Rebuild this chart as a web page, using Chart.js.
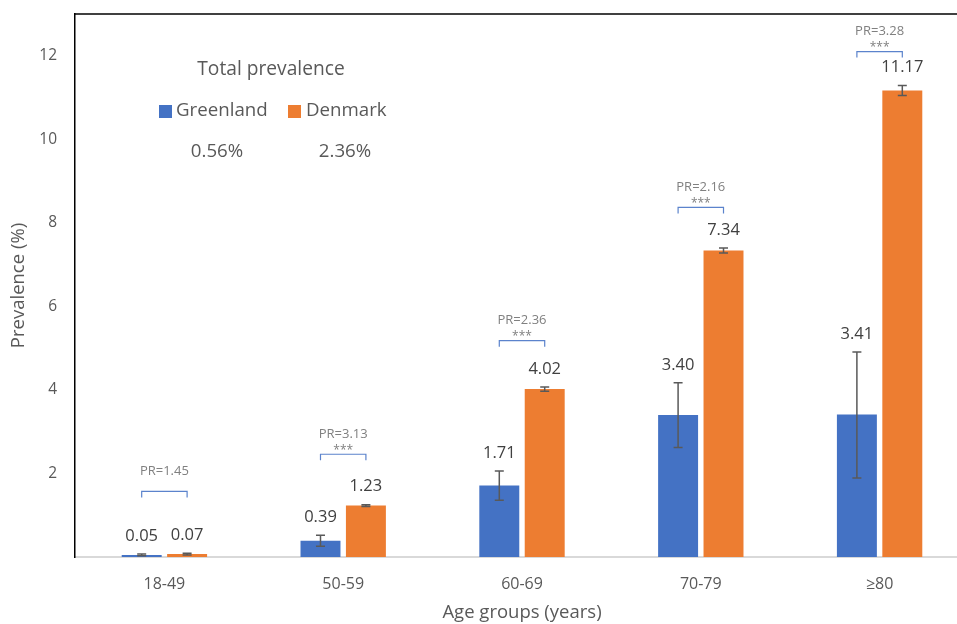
<!DOCTYPE html>
<html>
<head>
<meta charset="utf-8">
<script src="https://cdn.jsdelivr.net/npm/chart.js@4"></script>
<style>
  html, body { margin: 0; padding: 0; background: #fff; overflow: hidden; }
  #wrap { width: 969px; height: 624px; }
</style>
</head>
<body>
<div id="wrap"><canvas id="c" width="969" height="624" style="width:969px;height:624px"></canvas></div>
<script>
// ---- data ----
const categories = ['18-49', '50-59', '60-69', '70-79', '≥80'];
const greenland = [0.05, 0.39, 1.71, 3.40, 3.41];
const denmark = [0.07, 1.23, 4.02, 7.34, 11.17];
const greenlandLow = [0.03, 0.26, 1.36, 2.62, 1.89];
const greenlandHigh = [0.07, 0.52, 2.06, 4.17, 4.91];
const denmarkLow = [0.05, 1.21, 3.97, 7.28, 11.05];
const denmarkHigh = [0.09, 1.25, 4.07, 7.40, 11.29];
const prLabels = ['PR=1.45', 'PR=3.13', 'PR=2.36', 'PR=2.16', 'PR=3.28'];
const prStars = ['', '***', '***', '***', '***'];
const prLevel = [1.57, 2.46, 5.18, 8.37, 12.1];
const seriesNames = ['Greenland', 'Denmark'];
const totalPrevalence = ['0.56%', '2.36%'];
const yTicks = [2, 4, 6, 8, 10, 12];

const BLUE = '#4472C4', ORANGE = '#ED7D31';
const FONT = "'Open Sans', 'Liberation Sans', sans-serif";

const overlay = {
  id: 'overlay',
  afterDraw(chart) {
    const ctx = chart.ctx;
    const ca = chart.chartArea;
    const y = chart.scales.y;
    // top frame line
    ctx.save();
    ctx.strokeStyle = '#000';
    ctx.lineWidth = 1.5;
    ctx.beginPath();
    ctx.moveTo(ca.left - 0.75, ca.top);
    ctx.lineTo(ca.right, ca.top);
    ctx.stroke();

    const lows = [greenlandLow, denmarkLow];
    const highs = [greenlandHigh, denmarkHigh];
    const vals = [greenland, denmark];
    // error bars and value labels
    for (let d = 0; d < 2; d++) {
      const meta = chart.getDatasetMeta(d);
      meta.data.forEach((el, i) => {
        const yl = y.getPixelForValue(lows[d][i]);
        const yh = y.getPixelForValue(highs[d][i]);
        ctx.strokeStyle = '#595959';
        ctx.lineWidth = 1.5;
        ctx.beginPath();
        ctx.moveTo(el.x, yl); ctx.lineTo(el.x, yh);
        ctx.moveTo(el.x - 4.5, yl); ctx.lineTo(el.x + 4.5, yl);
        ctx.moveTo(el.x - 4.5, yh); ctx.lineTo(el.x + 4.5, yh);
        ctx.stroke();
        const top = Math.min(el.y, yh);
        ctx.fillStyle = '#404040';
        ctx.font = '16.5px ' + FONT;
        ctx.textAlign = 'center';
        ctx.textBaseline = 'middle';
        ctx.fillText(vals[d][i].toFixed(2), el.x, top - 18);
      });
    }
    // PR brackets
    const m0 = chart.getDatasetMeta(0), m1 = chart.getDatasetMeta(1);
    categories.forEach((c, i) => {
      const x1 = m0.data[i].x, x2 = m1.data[i].x;
      const by = y.getPixelForValue(prLevel[i]);
      ctx.strokeStyle = '#5B83CC';
      ctx.lineWidth = 1.2;
      ctx.beginPath();
      ctx.moveTo(x1, by + 6); ctx.lineTo(x1, by); ctx.lineTo(x2, by); ctx.lineTo(x2, by + 6);
      ctx.stroke();
      const cx = (x1 + x2) / 2;
      ctx.fillStyle = '#808080';
      ctx.textAlign = 'center';
      ctx.textBaseline = 'middle';
      ctx.font = '12px ' + FONT;
      if (prStars[i]) ctx.fillText(prStars[i], cx, by - 4);
      ctx.font = '13px ' + FONT;
      ctx.fillText(prLabels[i], cx, by - 20);
    });
    // legend block
    ctx.fillStyle = '#595959';
    ctx.textBaseline = 'middle';
    ctx.font = '19.2px ' + FONT;
    ctx.textAlign = 'center';
    ctx.fillText('Total prevalence', 271, 70);
    ctx.fillStyle = BLUE;
    ctx.fillRect(159, 105, 13, 13);
    ctx.fillStyle = ORANGE;
    ctx.fillRect(288, 105, 13, 13);
    ctx.fillStyle = '#595959';
    ctx.font = '18.7px ' + FONT;
    ctx.textAlign = 'left';
    ctx.fillText(seriesNames[0], 176, 111);
    ctx.fillText(seriesNames[1], 306, 111);
    ctx.textAlign = 'center';
    ctx.fillText(totalPrevalence[0], 217, 152);
    ctx.fillText(totalPrevalence[1], 345, 152);
    ctx.restore();
  }
};

new Chart(document.getElementById('c'), {
  type: 'bar',
  data: {
    labels: categories,
    datasets: [
      { label: seriesNames[0], data: greenland, backgroundColor: BLUE },
      { label: seriesNames[1], data: denmark, backgroundColor: ORANGE }
    ]
  },
  options: {
    responsive: false,
    animation: false,
    devicePixelRatio: 1,
    layout: { padding: { top: 14, right: 0, bottom: 0, left: 0 } },
    datasets: { bar: { categoryPercentage: 0.508, barPercentage: 0.88 } },
    plugins: { legend: { display: false }, tooltip: { enabled: false } },
    scales: {
      x: {
        grid: { display: false, drawTicks: false },
        border: { display: true, color: '#D9D9D9', width: 2 },
        ticks: { color: '#595959', font: { family: FONT, size: 16 }, padding: 18 },
        title: { display: true, text: 'Age groups (years)', color: '#595959', font: { family: FONT, size: 18.5 }, padding: { top: 0, bottom: 0 } },
        afterFit(s) { s.height = 67; s.paddingLeft = 0; s.paddingRight = 0; }
      },
      y: {
        min: 0, max: 13,
        grid: { display: false, drawTicks: false },
        border: { display: true, color: '#000', width: 1.5 },
        afterBuildTicks(s) { s.ticks = yTicks.map(v => ({ value: v })); },
        ticks: { color: '#595959', font: { family: FONT, size: 15.5 }, padding: 18 },
        title: { display: true, text: 'Prevalence (%)', color: '#595959', font: { family: FONT, size: 18.5 }, padding: { top: 8, bottom: 0 } },
        afterFit(s) { s.width = 75; s.paddingTop = 0; s.paddingBottom = 0; }
      }
    }
  },
  plugins: [overlay]
});
</script>
</body>
</html>
